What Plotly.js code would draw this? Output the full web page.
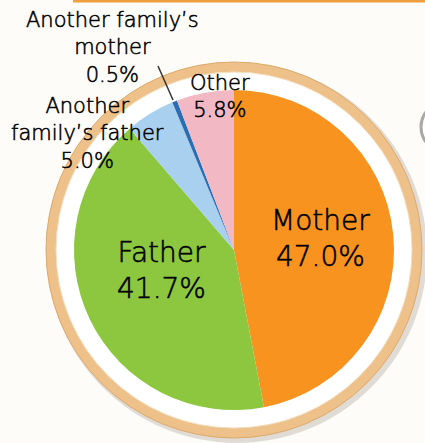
<!DOCTYPE html>
<html>
<head>
<meta charset="utf-8">
<script src="https://cdn.plot.ly/plotly-3.0.1.min.js"></script>
<style>
html,body{margin:0;padding:0;background:#fdfcf8;}
#chart{width:425px;height:443px;}
#chart .annotation-text{stroke:#000;stroke-width:0.55px;}
</style>
</head>
<body>
<div id="chart"></div>
<script>
// Data
const categories = ["Mother", "Father", "Another family’s father", "Another family’s mother", "Other"];
const values = [47.0, 41.7, 5.0, 0.5, 5.8];
const labelLines = [["Mother"], ["Father"], ["Another", "family’s father"], ["Another family’s", "mother"], ["Other"]];
const colors = ["#f7931e", "#8dc63f", "#a9d0ef", "#2a6db3", "#f2b9c5"];

const W = 425, H = 443;
const cx = 234, cy = 250, r = 160;
const px = x => x / W;
const py = y => 1 - y / H;

// label placements (pixel centers) and font sizes
const labelPos = [
  {x: 320, y: 238, size: 28},
  {x: 161, y: 270, size: 28},
  {x: 87, y: 134, size: 21},
  {x: 112, y: 48, size: 21},
  {x: 220, y: 96, size: 21}
];

const FONT = "'DejaVu Sans ExtraLight', 'DejaVu Sans Light', 'DejaVu Sans'";

const annotations = categories.map((c, i) => {
  const text = labelLines[i].concat([values[i].toFixed(1) + "%"]).join("<br>");
  const p = labelPos[i];
  return {
    text: text, x: px(p.x), y: py(p.y), xref: "paper", yref: "paper",
    xanchor: "center", yanchor: "middle", showarrow: false, align: "center",
    font: {family: FONT, size: p.size, color: "#000000"}
  };
});

const circle = (rad, fill, line, lw, dx, dy) => ({
  type: "circle", xref: "paper", yref: "paper", layer: "below",
  x0: px(cx + (dx||0) - rad), x1: px(cx + (dx||0) + rad),
  y0: py(cy + (dy||0) + rad), y1: py(cy + (dy||0) - rad),
  fillcolor: fill, line: {color: line, width: lw}
});

const shapes = [
  circle(190, "rgba(170,160,150,0.35)", "rgba(0,0,0,0)", 0, 3, 3),
  circle(188, "#eec08a", "#ddaa6c", 1, 0, 0),
  circle(178, "#ffffff", "#f5dfc0", 1, 0, 0),
  // top orange bar
  {type: "rect", xref: "paper", yref: "paper", layer: "below",
   x0: px(73), x1: px(425), y0: py(2.5), y1: py(0), fillcolor: "#f0a040", line: {width: 0}},
  // partial gray element at right edge
  {type: "circle", xref: "paper", yref: "paper", layer: "below",
   x0: px(421), x1: px(470), y0: py(152), y1: py(102), fillcolor: "#fdfcf8", line: {color: "#a8a8a8", width: 3}},
  // leader line for small slice
  {type: "line", xref: "paper", yref: "paper", x0: px(158), y0: py(66), x1: px(173), y1: py(100),
   line: {color: "#333333", width: 1.5}}
];

const trace = {
  type: "pie", labels: categories, values: values, sort: false,
  direction: "clockwise", rotation: 0,
  marker: {colors: colors, line: {width: 0}},
  textinfo: "none", hoverinfo: "label+percent",
  domain: {x: [px(cx - r), px(cx + r)], y: [py(cy + r), py(cy - r)]},
  showlegend: false
};

Plotly.newPlot("chart", [trace], {
  width: W, height: H, margin: {l: 0, r: 0, t: 0, b: 0},
  paper_bgcolor: "#fdfcf8", plot_bgcolor: "#fdfcf8",
  showlegend: false, annotations: annotations, shapes: shapes
}, {displayModeBar: false, staticPlot: true});
</script>
</body>
</html>
